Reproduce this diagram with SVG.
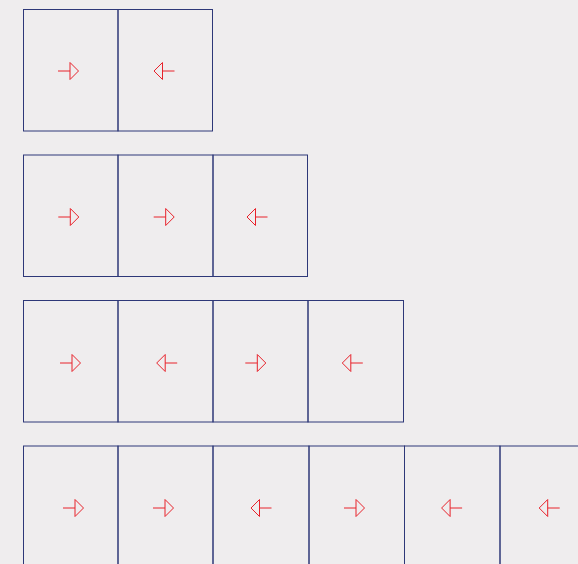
<svg xmlns="http://www.w3.org/2000/svg" xmlns:xlink="http://www.w3.org/1999/xlink" width="578" height="564" viewBox="0 0 578 564">
<style>
.box{fill:none;stroke:#2e3878;stroke-width:1}
.arr{fill:none;stroke:#e8222b;stroke-width:1}
</style>
<defs>
<g id="ar"><path class="arr" d="M0,0 H12"/><polygon class="arr" points="12,-8.5 20.5,0 12,8.5"/></g>
<g id="al"><polygon class="arr" points="8.5,-8.5 0,0 8.5,8.5"/><path class="arr" d="M8.5,0 H20.5"/></g>
</defs>
<rect width="578" height="564" fill="#efedee"/>
<g id="row1">
<g id="r1b1"><rect class="box" x="23.5" y="9.5" width="94.5" height="121.5"/><use xlink:href="#ar" x="58" y="71"/></g>
<g id="r1b2"><rect class="box" x="118" y="9.5" width="94.5" height="121.5"/><use xlink:href="#al" x="154" y="71"/></g>
</g>
<g id="row2">
<g id="r2b1"><rect class="box" x="23.5" y="155" width="94.5" height="121.5"/><use xlink:href="#ar" x="58.3" y="217"/></g>
<g id="r2b2"><rect class="box" x="118" y="155" width="95" height="121.5"/><use xlink:href="#ar" x="153.7" y="217"/></g>
<g id="r2b3"><rect class="box" x="213" y="155" width="94.5" height="121.5"/><use xlink:href="#al" x="247" y="217"/></g>
</g>
<g id="row3">
<g id="r3b1"><rect class="box" x="23.5" y="300.5" width="94.5" height="121.5"/><use xlink:href="#ar" x="60" y="363"/></g>
<g id="r3b2"><rect class="box" x="118" y="300.5" width="95" height="121.5"/><use xlink:href="#al" x="156.7" y="363"/></g>
<g id="r3b3"><rect class="box" x="213" y="300.5" width="95" height="121.5"/><use xlink:href="#ar" x="245.3" y="363"/></g>
<g id="r3b4"><rect class="box" x="308" y="300.5" width="95.5" height="121.5"/><use xlink:href="#al" x="342.3" y="363"/></g>
</g>
<g id="row4">
<g id="r4b1"><rect class="box" x="23.5" y="446" width="94.5" height="121.5"/><use xlink:href="#ar" x="63" y="508"/></g>
<g id="r4b2"><rect class="box" x="118" y="446" width="95" height="121.5"/><use xlink:href="#ar" x="153" y="508"/></g>
<g id="r4b3"><rect class="box" x="213" y="446" width="96" height="121.5"/><use xlink:href="#al" x="251" y="508"/></g>
<g id="r4b4"><rect class="box" x="309" y="446" width="95.5" height="121.5"/><use xlink:href="#ar" x="344" y="508"/></g>
<g id="r4b5"><rect class="box" x="404.5" y="446" width="95.5" height="121.5"/><use xlink:href="#al" x="441.6" y="508"/></g>
<g id="r4b6"><rect class="box" x="500" y="446" width="95.5" height="121.5"/><use xlink:href="#al" x="539.2" y="508"/></g>
</g>
<g id="connectors"/>
</svg>
